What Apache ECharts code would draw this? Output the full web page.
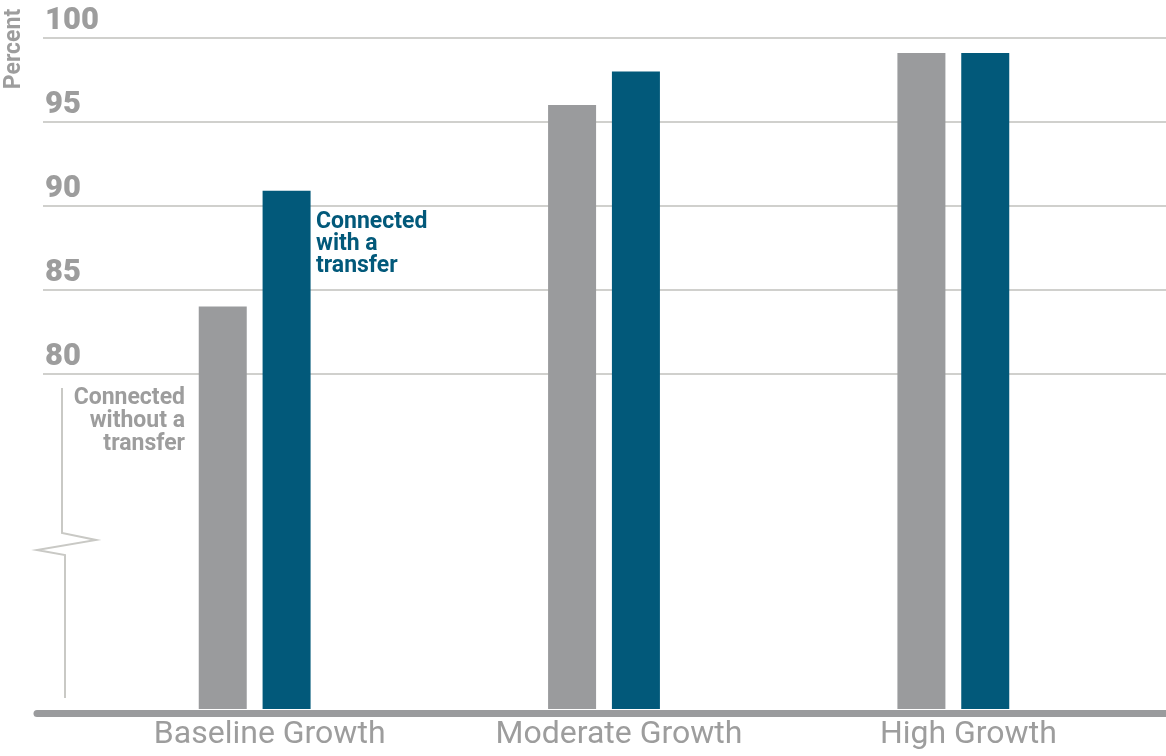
<!DOCTYPE html>
<html>
<head>
<meta charset="utf-8">
<script src="https://cdn.jsdelivr.net/npm/echarts@6/dist/echarts.min.js"></script>
<style>
html,body{margin:0;padding:0;background:#fff;}
#chart{width:1166px;height:756px;}
</style>
</head>
<body>
<div id="chart"></div>
<script>
const categories = ['Baseline Growth', 'Moderate Growth', 'High Growth'];
const withoutTransfer = [84.0, 96.0, 99.1];
const withTransfer = [90.9, 98.0, 99.1];
const yTicks = [60, 65, 70, 75, 80, 85, 90, 95, 100];
const yLabelMin = 80;

const GRAY = '#9a9b9d';
const BLUE = '#02597a';
const GRID = '#d0d0cd';
const LABEL = '#9d9d9d';

const chart = echarts.init(document.getElementById('chart'));
const splitColors = yTicks.map(v => v >= yLabelMin ? GRID : 'rgba(0,0,0,0)');

chart.setOption({
  animation: false,
  grid: [
    {left: 43, right: 0, top: 38, bottom: 47},
    {left: 80, right: 38, top: 38, bottom: 47},
    {left: 37, right: 0, top: 38, bottom: 47}
  ],
  xAxis: [
    {gridIndex: 0, type: 'value', min: 0, max: 1, show: false},
    {gridIndex: 1, type: 'category', data: categories,
     axisLine: {show: false}, axisTick: {show: false},
     axisLabel: {color: LABEL, fontFamily: 'Roboto', fontSize: 32, margin: 10, padding: [0, 0, 0, 30]}},
    {gridIndex: 2, type: 'value', min: 0, max: 1,
     axisLine: {show: true, onZero: false, lineStyle: {color: GRAY, width: 7}},
     axisTick: {show: false}, axisLabel: {show: false}, splitLine: {show: false}, offset: 4}
  ],
  yAxis: [
    {gridIndex: 0, type: 'value', min: 60, max: 100, interval: 5,
     axisLine: {show: false}, axisTick: {show: false},
     axisLabel: {inside: true, margin: 2, verticalAlign: 'bottom', color: LABEL,
                 fontFamily: 'Roboto', fontWeight: 900, fontSize: 31, padding: [0, 0, 1, 0],
                 formatter: v => v >= yLabelMin ? String(v) : ''},
     splitLine: {show: true, lineStyle: {color: splitColors, width: 2}}},
    {gridIndex: 1, type: 'value', min: 60, max: 100, interval: 5, show: false},
    {gridIndex: 2, type: 'value', min: 0, max: 1, show: false}
  ],
  series: [
    {name: 'Connected without a transfer', type: 'bar', xAxisIndex: 1, yAxisIndex: 1,
     data: withoutTransfer, barWidth: 48, barGap: '33%', itemStyle: {color: GRAY}},
    {name: 'Connected with a transfer', type: 'bar', xAxisIndex: 1, yAxisIndex: 1,
     data: withTransfer, barWidth: 48, barGap: '33%', itemStyle: {color: BLUE}}
  ],
  graphic: [
    {type: 'text', x: 14, y: 49, rotation: Math.PI / 2,
     style: {text: 'Percent', fill: LABEL, font: 'bold 23px Roboto', textAlign: 'center', textVerticalAlign: 'middle'}},
    {type: 'text', x: 316, y: 211,
     style: {text: 'Connected\nwith a\ntransfer', fill: BLUE, font: 'bold 23px Roboto', lineHeight: 22, textAlign: 'left'}},
    {type: 'text', x: 185, y: 387,
     style: {text: 'Connected\nwithout a\ntransfer', fill: LABEL, font: 'bold 23px Roboto', lineHeight: 23, textAlign: 'right'}},
    {type: 'polyline',
     shape: {points: [[62, 388], [62, 533], [96, 540], [37, 550], [65, 555], [65, 698]]},
     style: {stroke: '#c9c9c5', lineWidth: 2, fill: null}}
  ]
});
</script>
</body>
</html>
